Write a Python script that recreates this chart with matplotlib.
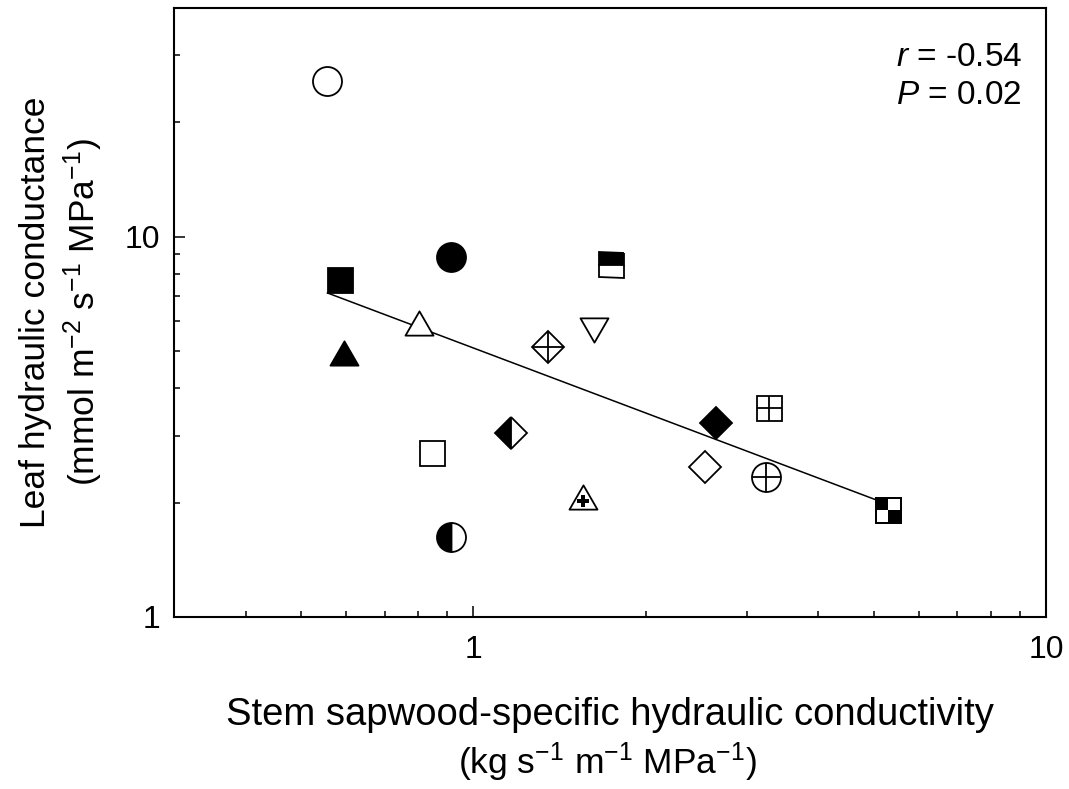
import matplotlib
matplotlib.use("Agg")
import matplotlib.pyplot as plt
from matplotlib import ticker
from matplotlib.path import Path

plt.rcParams["font.family"] = ["Liberation Sans", "DejaVu Sans"]
plt.rcParams["mathtext.fontset"] = "custom"
plt.rcParams["mathtext.rm"] = "Liberation Sans"
plt.rcParams["mathtext.it"] = "Liberation Sans:italic"

# stem sapwood-specific conductivity (x) and leaf conductance (y), one per species
ks = [0.556, 0.586, 0.915, 0.595, 0.804, 1.736, 1.352, 1.627, 1.165,
      0.848, 1.551, 0.915, 2.649, 3.28, 2.534, 3.24, 5.29]
kleaf = [25.7, 7.70, 8.86, 4.95, 5.94, 8.44, 5.13, 5.69, 3.05,
         2.70, 2.07, 1.62, 3.24, 3.55, 2.48, 2.34, 1.91]
symbols = ["open_circle", "filled_square", "filled_circle", "filled_triangle",
           "open_triangle", "square_top_half", "diamond_plus", "open_triangle_down",
           "diamond_left_half", "open_square", "triangle_bold_plus", "circle_left_half",
           "filled_diamond", "square_plus", "open_diamond", "circle_plus", "checker_square"]

# regression line (log-log)
fit_x = [0.556, 5.29]
fit_y = [7.12, 1.98]
r_value = -0.54
p_value = 0.02

DPI = 100
PX = 72.0 / DPI  # points per pixel
EW = 1.3

TRI_UP = Path([(0, 0.433), (-0.5, -0.433), (0.5, -0.433), (0, 0.433)],
              [Path.MOVETO, Path.LINETO, Path.LINETO, Path.CLOSEPOLY])
TRI_DOWN = Path([(0, -0.433), (-0.5, 0.433), (0.5, 0.433), (0, -0.433)],
                [Path.MOVETO, Path.LINETO, Path.LINETO, Path.CLOSEPOLY])
CHECKER = Path([(-1, 0), (0, 0), (0, 1), (-1, 1), (-1, 0),
                (0, -1), (1, -1), (1, 0), (0, 0), (0, -1)],
               [Path.MOVETO, Path.LINETO, Path.LINETO, Path.LINETO, Path.CLOSEPOLY] * 2)

# bold plus sitting at the triangle centroid
a, t, c = 0.23, 0.075, -0.144
plus_pts = [(-t, a), (t, a), (t, t), (a, t), (a, -t), (t, -t), (t, -a),
            (-t, -a), (-t, -t), (-a, -t), (-a, t), (-t, t), (-t, a)]
BOLD_PLUS = Path([(px, py + c) for px, py in plus_pts],
                 [Path.MOVETO] + [Path.LINETO] * 11 + [Path.CLOSEPOLY])
plus_scale = max(abs(v) for xy in BOLD_PLUS.vertices for v in xy) / 0.5

CIRC = 29 * PX
SQ = 25 * PX
DIA = 22.5 * PX
TRI = 28 * PX


def mark(ax, x, y, marker, ms, face="white", ew=EW, **kw):
    ax.plot([x], [y], linestyle="none", marker=marker, markersize=ms,
            markerfacecolor=face, markeredgecolor="black",
            markeredgewidth=ew, zorder=3, **kw)


def draw_symbol(ax, x, y, kind):
    if kind == "open_circle":
        mark(ax, x, y, "o", CIRC)
    elif kind == "filled_circle":
        mark(ax, x, y, "o", CIRC, face="black")
    elif kind == "circle_left_half":
        mark(ax, x, y, "o", CIRC, face="black", fillstyle="left",
             markerfacecoloralt="white")
    elif kind == "circle_plus":
        mark(ax, x, y, "o", CIRC)
        mark(ax, x, y, "+", CIRC)
    elif kind == "open_square":
        mark(ax, x, y, "s", SQ)
    elif kind == "filled_square":
        mark(ax, x, y, "s", SQ, face="black")
    elif kind == "square_top_half":
        mark(ax, x, y, "s", SQ, face="black", fillstyle="top",
             markerfacecoloralt="white")
    elif kind == "square_plus":
        mark(ax, x, y, "s", SQ)
        mark(ax, x, y, "+", SQ)
    elif kind == "checker_square":
        mark(ax, x, y, "s", SQ)
        mark(ax, x, y, CHECKER, SQ, face="black", ew=0)
        mark(ax, x, y, "s", SQ, face="none")
    elif kind == "open_diamond":
        mark(ax, x, y, "D", DIA)
    elif kind == "filled_diamond":
        mark(ax, x, y, "D", DIA, face="black")
    elif kind == "diamond_left_half":
        mark(ax, x, y, "D", DIA, face="black", fillstyle="left",
             markerfacecoloralt="white")
    elif kind == "diamond_plus":
        mark(ax, x, y, "D", DIA)
        mark(ax, x, y, "+", DIA * 1.414)
    elif kind == "open_triangle":
        mark(ax, x, y, TRI_UP, TRI)
    elif kind == "filled_triangle":
        mark(ax, x, y, TRI_UP, TRI, face="black")
    elif kind == "open_triangle_down":
        mark(ax, x, y, TRI_DOWN, TRI)
    elif kind == "triangle_bold_plus":
        mark(ax, x, y, TRI_UP, TRI)
        mark(ax, x, y, BOLD_PLUS, TRI * plus_scale, face="black", ew=0)


fig = plt.figure(figsize=(1069 / DPI, 789 / DPI), dpi=DPI)
ax = fig.add_axes([174 / 1069, 1 - 617 / 789, 872 / 1069, 609 / 789])

ax.plot(fit_x, fit_y, color="black", linewidth=1.1, zorder=2)
for x, y, kind in zip(ks, kleaf, symbols):
    draw_symbol(ax, x, y, kind)

ax.set_xscale("log")
ax.set_yscale("log")
ax.set_xlim(0.3, 10)
ax.set_ylim(1, 40)

fmt = ticker.FuncFormatter(lambda v, _: f"{v:g}")
ax.xaxis.set_major_locator(ticker.FixedLocator([1, 10]))
ax.yaxis.set_major_locator(ticker.FixedLocator([1, 10]))
ax.xaxis.set_major_formatter(fmt)
ax.yaxis.set_major_formatter(fmt)
ax.xaxis.set_minor_formatter(ticker.NullFormatter())
ax.yaxis.set_minor_formatter(ticker.NullFormatter())

for s in ax.spines.values():
    s.set_linewidth(1.5)
ax.tick_params(which="both", direction="in", top=False, right=False,
               width=1.1, labelsize=23)
ax.tick_params(which="major", length=8)
ax.tick_params(which="minor", length=4)
ax.tick_params(axis="x", pad=13)
ax.tick_params(axis="y", pad=10)

# x label: two lines, the unit line is a touch smaller in the original
ax.set_xlabel("Stem sapwood-specific hydraulic conductivity", fontsize=27.5,
              labelpad=23)
ax.text(0.497, -0.238, "(kg s$^{-1}$ m$^{-1}$ MPa$^{-1}$)", transform=ax.transAxes,
        fontsize=25.5, ha="center", va="center")
ax.set_ylabel("Leaf hydraulic conductance\n"
              "(mmol m$^{-2}$ s$^{-1}$ MPa$^{-1}$)", fontsize=25.5, labelpad=14,
              linespacing=1.3)

ax.text(0.828, 0.944, f"$\\it{{r}}$ = {r_value:.2f}\n$\\it{{P}}$ = {p_value:.2f}",
        transform=ax.transAxes, fontsize=24, va="top", ha="left", linespacing=1.3)

fig.savefig("out.png", dpi=DPI)
